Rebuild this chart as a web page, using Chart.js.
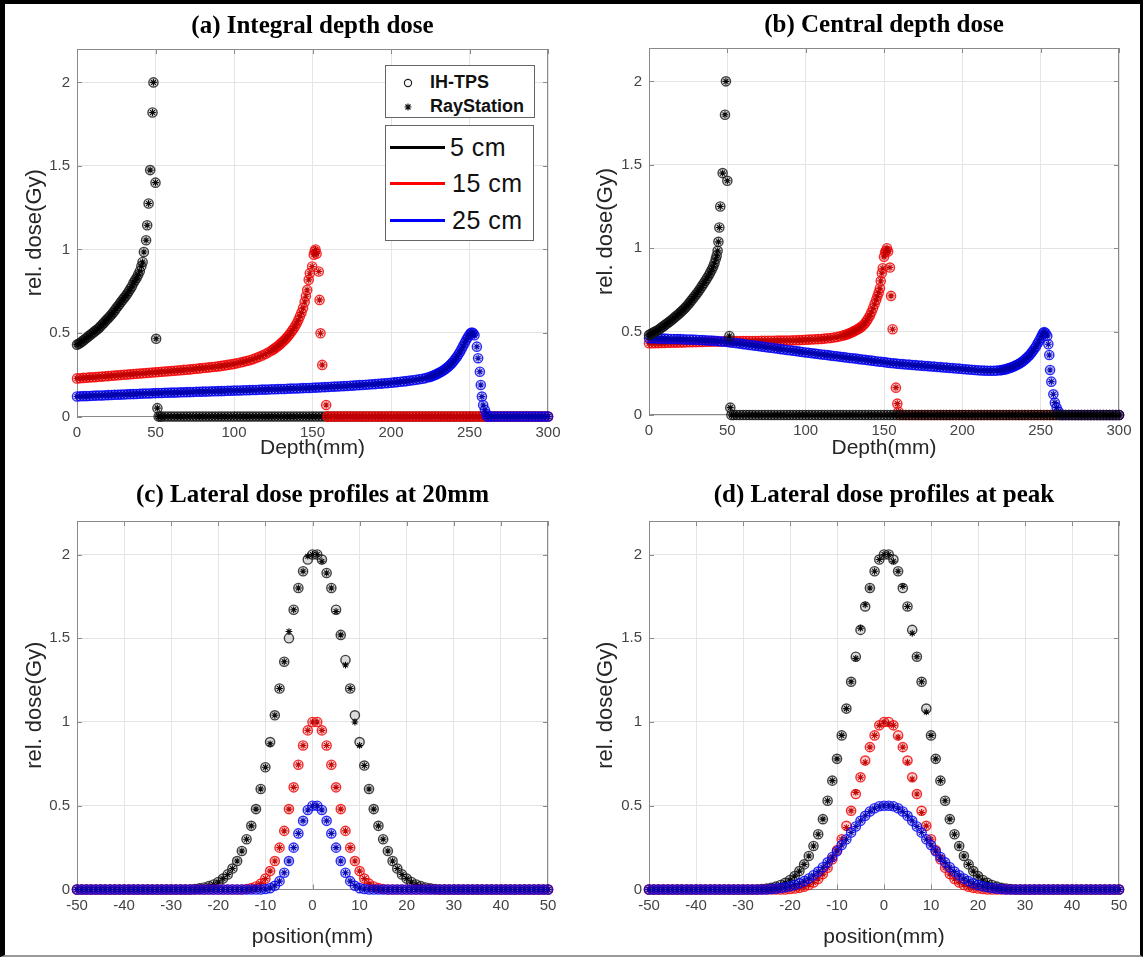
<!DOCTYPE html>
<html>
<head>
<meta charset="utf-8">
<title>Depth dose and lateral profiles</title>
<script src="https://cdn.jsdelivr.net/npm/chart.js@4.4.1/dist/chart.umd.min.js"></script>
<style>
  body { margin: 0; background: #fff; }
  #fig { position: relative; width: 1143px; height: 957px; overflow: hidden; background: #fff; }
  #fig canvas { position: absolute; }
  .frame { position: absolute; left: 0; top: 0; width: 1143px; height: 957px; box-sizing: border-box;
           border-left: 5px solid #000; border-top: 4px solid #000; border-right: 3px solid #000;
           border-bottom: 2px solid #999; pointer-events: none; }
  .lg { position: absolute; box-sizing: border-box; border: 1px solid #666; background: #fff; }
  .lg svg { position: absolute; }
  .lg span { position: absolute; white-space: nowrap; color: #111; font-family: 'Liberation Sans', Arial, sans-serif; }
  .lg .small { font-size: 18px; font-weight: bold; line-height: 20px; }
  .lg .big { font-size: 25px; line-height: 28px; letter-spacing: 0.5px; }
  .lg i { position: absolute; height: 3px; width: 55px; left: 4px; }
</style>
</head>
<body>
<div id="fig">
  <canvas id="cA" width="571" height="478" style="left:0;top:0"></canvas>
  <canvas id="cB" width="572" height="478" style="left:571px;top:0"></canvas>
  <canvas id="cC" width="571" height="479" style="left:0;top:478px"></canvas>
  <canvas id="cD" width="572" height="479" style="left:571px;top:478px"></canvas>

  <div class="lg" style="left:385px;top:65px;width:150px;height:53px">
    <svg style="left:16px;top:11px" width="12" height="12"><circle cx="6" cy="6" r="3.6" fill="none" stroke="#222" stroke-width="1.2"/></svg>
    <span class="small" style="left:44px;top:6px">IH-TPS</span>
    <svg style="left:16px;top:35px" width="12" height="12"><path d="M6 2.5V9.5M2.5 6H9.5M3.5 3.5L8.5 8.5M8.5 3.5L3.5 8.5" stroke="#111" stroke-width="1.2"/></svg>
    <span class="small" style="left:44px;top:30px">RayStation</span>
  </div>
  <div class="lg" style="left:385px;top:125px;width:149px;height:116px">
    <i style="top:20px;background:#000"></i>
    <span class="big" style="left:64px;top:7px">5 cm</span>
    <i style="top:56px;background:#f00"></i>
    <span class="big" style="left:66px;top:43px">15 cm</span>
    <i style="top:93px;background:#00f"></i>
    <span class="big" style="left:66px;top:80px">25 cm</span>
  </div>

  <div class="frame"></div>
</div>

<script>
// ---- data ----
const yTicks = [0, 0.5, 1, 1.5, 2];
const depthTicks = [0, 50, 100, 150, 200, 250, 300];
const positionTicks = [-50, -40, -30, -20, -10, 0, 10, 20, 30, 40, 50];

// depth sampling (mm) for the smooth parts of the depth dose curves
const depthGrid = [
  0, 2, 4, 6, 8, 10, 12, 14, 16, 18,
  20, 22, 24, 26, 28, 30, 32, 34, 36, 38,
  40, 42, 44, 46, 48, 50, 52, 54, 56, 58,
  60, 62, 64, 66, 68, 70, 72, 74, 76, 78,
  80, 82, 84, 86, 88, 90, 92, 94, 96, 98,
  100, 102, 104, 106, 108, 110, 112, 114, 116, 118,
  120, 122, 124, 126, 128, 130, 132, 134, 136, 138,
  140, 142, 144, 146, 148, 150, 152, 154, 156, 158,
  160, 162, 164, 166, 168, 170, 172, 174, 176, 178,
  180, 182, 184, 186, 188, 190, 192, 194, 196, 198,
  200, 202, 204, 206, 208, 210, 212, 214, 216, 218,
  220, 222, 224, 226, 228, 230, 232, 234, 236, 238,
  240, 242, 244, 246, 248, 250, 252, 254, 256, 258,
  260, 262, 264, 266, 268, 270, 272, 274, 276, 278,
  280, 282, 284, 286, 288, 290, 292, 294, 296, 298,
  300
];

// (a) integral depth dose on depthGrid (null = covered by the peak list)
const iddDose5 = [
  .43, .44, .455, .47, .485, .50, .515, .53, .55, .57,
  .59, .61, .635, .66, .685, .71, .735, .765, .80, .83,
  .87, null, null, null, null, null, 0, 0, 0, 0,
  0, 0, 0, 0, 0, 0, 0, 0, 0, 0,
  0, 0, 0, 0, 0, 0, 0, 0, 0, 0,
  0, 0, 0, 0, 0, 0, 0, 0, 0, 0,
  0, 0, 0, 0, 0, 0, 0, 0, 0, 0,
  0, 0, 0, 0, 0, 0, 0, 0, 0, 0,
  0, 0, 0, 0, 0, 0, 0, 0, 0, 0,
  0, 0, 0, 0, 0, 0, 0, 0, 0, 0,
  0, 0, 0, 0, 0, 0, 0, 0, 0, 0,
  0, 0, 0, 0, 0, 0, 0, 0, 0, 0,
  0, 0, 0, 0, 0, 0, 0, 0, 0, 0,
  0, 0, 0, 0, 0, 0, 0, 0, 0, 0,
  0, 0, 0, 0, 0, 0, 0, 0, 0, 0,
  0
];
const iddPeak5 = [[1, .435], [3, .448], [5, .462], [7, .478], [9, .492], [11, .508], [13, .522],
  [15, .54], [17, .56], [19, .58], [21, .60], [23, .622], [25, .648], [27, .672], [29, .698], [31, .722],
  [33, .75], [35, .78], [37, .815], [39, .85], [41, .90], [41.8, .925], [42.6, .985],
  [44.0, 1.055], [44.7, 1.145], [45.6, 1.275], [46.6, 1.475], [48.1, 1.82], [48.7, 2.0], [50.0, 1.40],
  [50.4, .465], [51.2, .05], [53, 0]];

const iddDose15 = [
  .228, .229, .231, .232, .234, .235, .236, .238, .239, .241,
  .242, .244, .245, .247, .248, .25, .251, .253, .254, .256,
  .257, .259, .26, .262, .263, .265, .266, .268, .269, .271,
  .272, .274, .275, .277, .279, .28, .282, .284, .286, .288,
  .29, .292, .294, .296, .298, .30, .303, .306, .309, .312,
  .315, .319, .323, .327, .332, .337, .343, .35, .357, .365,
  .374, .384, .395, .408, .422, .438, .456, .476, .50, .527,
  .558, .60, .65, null, null, null, null, null, null, null,
  0, 0, 0, 0, 0, 0, 0, 0, 0, 0,
  0, 0, 0, 0, 0, 0, 0, 0, 0, 0,
  0, 0, 0, 0, 0, 0, 0, 0, 0, 0,
  0, 0, 0, 0, 0, 0, 0, 0, 0, 0,
  0, 0, 0, 0, 0, 0, 0, 0, 0, 0,
  0, 0, 0, 0, 0, 0, 0, 0, 0, 0,
  0, 0, 0, 0, 0, 0, 0, 0, 0, 0,
  0
];
const iddPeak15 = [[125, .401], [127, .415], [129, .43], [131, .447], [133, .466], [135, .488],
  [137, .513], [139, .542], [141, .577], [143, .622], [145, .685], [145.8, .72],
  [146.6, .758], [147.6, .818], [148.3, .858], [149.8, .898], [150.8, .968], [151.4, .99], [151.9, 1.0],
  [152.6, .975], [154, .868], [154.5, .698], [155.1, .498], [156.2, .309], [158.7, .069], [159.5, 0]];

const iddDose25 = [
  .12, .121, .122, .122, .123, .124, .125, .126, .126, .127,
  .128, .129, .13, .13, .131, .132, .133, .134, .134, .135,
  .136, .137, .138, .138, .139, .14, .141, .141, .142, .142,
  .143, .143, .144, .145, .145, .146, .146, .147, .148, .148,
  .149, .149, .15, .151, .151, .152, .152, .153, .154, .154,
  .155, .156, .156, .157, .157, .158, .159, .159, .16, .161,
  .161, .162, .163, .163, .164, .165, .165, .166, .167, .168,
  .168, .169, .17, .171, .171, .172, .173, .174, .175, .176,
  .177, .178, .179, .18, .181, .182, .183, .184, .185, .187,
  .188, .189, .19, .192, .193, .194, .196, .197, .199, .20,
  .202, .204, .206, .208, .21, .212, .215, .217, .22, .223,
  .226, .23, .235, .241, .249, .258, .268, .28, .295, .312,
  .333, .358, .388, .423, .46, null, null, null, null, null,
  null, 0, 0, 0, 0, 0, 0, 0, 0, 0,
  0, 0, 0, 0, 0, 0, 0, 0, 0, 0,
  0
];
const iddPeak25 = [[225, .238], [227, .245], [229, .253], [231, .263], [233, .274], [235, .287],
  [237, .303], [239, .322],
  [241, .345], [243, .372], [245, .405], [247, .442], [249, .476], [250, .49],
  [250.8, .50], [251.6, .503], [252.4, .498], [253.2, .486], [254.7, .418], [255.5, .349], [256.6, .268],
  [257.2, .189], [257.9, .119], [258.7, .069], [259.8, .039], [260.8, .015], [261.4, 0]];

// (b) central depth dose
const cddDose5 = [
  .48, .49, .50, .51, .525, .538, .552, .566, .582, .598,
  .614, .632, .652, .674, .698, .722, .748, .776, .805, .835,
  .87, null, null, null, null, null, null, 0, 0, 0,
  0, 0, 0, 0, 0, 0, 0, 0, 0, 0,
  0, 0, 0, 0, 0, 0, 0, 0, 0, 0,
  0, 0, 0, 0, 0, 0, 0, 0, 0, 0,
  0, 0, 0, 0, 0, 0, 0, 0, 0, 0,
  0, 0, 0, 0, 0, 0, 0, 0, 0, 0,
  0, 0, 0, 0, 0, 0, 0, 0, 0, 0,
  0, 0, 0, 0, 0, 0, 0, 0, 0, 0,
  0, 0, 0, 0, 0, 0, 0, 0, 0, 0,
  0, 0, 0, 0, 0, 0, 0, 0, 0, 0,
  0, 0, 0, 0, 0, 0, 0, 0, 0, 0,
  0, 0, 0, 0, 0, 0, 0, 0, 0, 0,
  0, 0, 0, 0, 0, 0, 0, 0, 0, 0,
  0
];
const cddPeak5 = [[1, .485], [3, .495], [5, .505], [7, .517], [9, .531], [11, .545], [13, .559],
  [15, .574], [17, .59], [19, .606], [21, .623], [23, .642], [25, .663], [27, .686], [29, .71], [31, .735],
  [33, .762], [35, .79], [37, .82], [39, .852], [41, .89], [41.8, .91], [42.6, .935], [43.2, .955],
  [43.8, .984], [44.3, 1.038], [44.9, 1.124], [45.5, 1.25], [47, 1.45], [48.5, 1.80], [49.1, 2.0],
  [50, 1.404], [51.3, .474], [51.9, .044], [52.6, 0]];

const cddDose15 = [
  .43, .43, .431, .431, .432, .432, .433, .433, .434, .434,
  .435, .435, .436, .436, .437, .437, .438, .438, .439, .439,
  .44, .44, .441, .441, .442, .442, .442, .443, .443, .443,
  .443, .444, .444, .444, .444, .444, .445, .445, .445, .445,
  .445, .446, .446, .446, .447, .447, .448, .448, .449, .45,
  .451, .452, .453, .454, .455, .456, .458, .46, .462, .465,
  .468, .472, .477, .483, .49, .498, .508, .519, .532, .552,
  .58, .617, .665, null, null, null, null, null, null, null,
  0, 0, 0, 0, 0, 0, 0, 0, 0, 0,
  0, 0, 0, 0, 0, 0, 0, 0, 0, 0,
  0, 0, 0, 0, 0, 0, 0, 0, 0, 0,
  0, 0, 0, 0, 0, 0, 0, 0, 0, 0,
  0, 0, 0, 0, 0, 0, 0, 0, 0, 0,
  0, 0, 0, 0, 0, 0, 0, 0, 0, 0,
  0, 0, 0, 0, 0, 0, 0, 0, 0, 0,
  0
];
const cddPeak15 = [[125, .48], [127, .486], [129, .494], [131, .503], [133, .513], [135, .525],
  [137, .541], [139, .565], [141, .597], [143, .64], [145, .69], [145.8, .712], [146.6, .735],
  [147.4, .76], [147.9, .804], [148.6, .85], [149.2, .88], [150, .948], [150.7, .975], [151.3, .985],
  [151.9, 1.0], [152.6, .98], [153.8, .884], [154.5, .714], [155.5, .514], [157.6, .164], [158.5, .068],
  [159.2, .02]];

const cddDose25 = [
  .46, .46, .459, .459, .458, .458, .457, .456, .456, .455,
  .455, .454, .453, .453, .452, .451, .45, .449, .448, .447,
  .446, .445, .443, .441, .44, .438, .435, .433, .43, .428,
  .425, .423, .42, .418, .415, .413, .41, .408, .405, .403,
  .40, .398, .395, .393, .39, .388, .385, .383, .38, .378,
  .375, .373, .37, .368, .366, .363, .361, .359, .356, .354,
  .352, .349, .347, .345, .342, .34, .338, .335, .333, .331,
  .328, .326, .324, .321, .319, .317, .314, .312, .31, .308,
  .306, .305, .303, .302, .30, .299, .297, .296, .294, .293,
  .291, .29, .288, .287, .285, .284, .282, .281, .279, .278,
  .276, .274, .273, .271, .27, .268, .267, .266, .265, .265,
  .265, .266, .268, .271, .275, .281, .288, .296, .306, .318,
  .333, .35, .371, .397, .428, null, null, null, null, null,
  null, null, 0, 0, 0, 0, 0, 0, 0, 0,
  0, 0, 0, 0, 0, 0, 0, 0, 0, 0,
  0
];
const cddPeak25 = [[225, .269], [227, .273], [229, .278], [231, .284], [233, .292], [235, .301],
  [237, .312], [239, .325],
  [241, .341], [243, .36], [245, .383], [247, .41], [249, .445], [250, .462],
  [250.8, .478], [251.6, .492], [252.3, .497], [253.2, .49], [254.2, .474], [254.9, .424], [255.5, .36],
  [256, .27], [256.8, .20], [258.1, .124], [259.1, .074], [260.2, .044], [261.5, .02], [262.6, 0]];

// lateral positions (mm)
const positions = [
  -50, -49, -48, -47, -46, -45, -44, -43, -42, -41,
  -40, -39, -38, -37, -36, -35, -34, -33, -32, -31,
  -30, -29, -28, -27, -26, -25, -24, -23, -22, -21,
  -20, -19, -18, -17, -16, -15, -14, -13, -12, -11,
  -10, -9, -8, -7, -6, -5, -4, -3, -2, -1,
  0, 1, 2, 3, 4, 5, 6, 7, 8, 9,
  10, 11, 12, 13, 14, 15, 16, 17, 18, 19,
  20, 21, 22, 23, 24, 25, 26, 27, 28, 29,
  30, 31, 32, 33, 34, 35, 36, 37, 38, 39,
  40, 41, 42, 43, 44, 45, 46, 47, 48, 49,
  50
];

// (c) lateral profiles at 20 mm
const lat20Ih5 = [
  0, 0, 0, 0, 0, 0, 0, 0, 0, 0,
  0, 0, 0, 0, 0, 0, 0, 0, 0, 0,
  0, 0, 0, 0, 0, .003, .007, .012, .02, .03,
  .045, .065, .09, .125, .17, .23, .30, .38, .48, .60,
  .73, .88, 1.04, 1.20, 1.36, 1.50, 1.67, 1.80, 1.90, 1.97,
  2.0, 2.0, 1.97, 1.89, 1.80, 1.67, 1.52, 1.37, 1.20, 1.04,
  .88, .74, .60, .48, .38, .30, .23, .17, .125, .09,
  .065, .045, .03, .02, .012, .007, .003, 0, 0, 0,
  0, 0, 0, 0, 0, 0, 0, 0, 0, 0,
  0, 0, 0, 0, 0, 0, 0, 0, 0, 0,
  0
];
const lat20Rs5 = [
  0, 0, 0, 0, 0, 0, 0, 0, 0, 0,
  0, 0, 0, 0, 0, 0, 0, 0, 0, 0,
  0, 0, 0, 0, 0, .003, .007, .012, .02, .03,
  .045, .065, .09, .125, .17, .23, .30, .38, .48, .60,
  .73, .87, 1.04, 1.20, 1.36, 1.54, 1.67, 1.80, 1.90, 1.99,
  2.0, 2.0, 1.96, 1.89, 1.80, 1.66, 1.52, 1.34, 1.20, 1.00,
  .86, .74, .60, .48, .38, .30, .23, .17, .125, .09,
  .065, .045, .03, .02, .012, .007, .003, 0, 0, 0,
  0, 0, 0, 0, 0, 0, 0, 0, 0, 0,
  0, 0, 0, 0, 0, 0, 0, 0, 0, 0,
  0
];
const lat20Ih15 = [
  0, 0, 0, 0, 0, 0, 0, 0, 0, 0,
  0, 0, 0, 0, 0, 0, 0, 0, 0, 0,
  0, 0, 0, 0, 0, 0, 0, 0, 0, 0,
  0, 0, 0, 0, 0, 0, .003, .008, .018, .035,
  .065, .11, .17, .25, .35, .48, .61, .745, .86, .95,
  1.0, 1.0, .95, .86, .745, .61, .48, .35, .25, .17,
  .11, .065, .035, .018, .008, .003, 0, 0, 0, 0,
  0, 0, 0, 0, 0, 0, 0, 0, 0, 0,
  0, 0, 0, 0, 0, 0, 0, 0, 0, 0,
  0, 0, 0, 0, 0, 0, 0, 0, 0, 0,
  0
];
const lat20Ih25 = [
  0, 0, 0, 0, 0, 0, 0, 0, 0, 0,
  0, 0, 0, 0, 0, 0, 0, 0, 0, 0,
  0, 0, 0, 0, 0, 0, 0, 0, 0, 0,
  0, 0, 0, 0, 0, 0, 0, 0, 0, 0,
  .003, .008, .022, .05, .10, .17, .25, .335, .41, .475,
  .5, .5, .475, .41, .335, .25, .17, .10, .05, .022,
  .008, .003, 0, 0, 0, 0, 0, 0, 0, 0,
  0, 0, 0, 0, 0, 0, 0, 0, 0, 0,
  0, 0, 0, 0, 0, 0, 0, 0, 0, 0,
  0, 0, 0, 0, 0, 0, 0, 0, 0, 0,
  0
];

// (d) lateral profiles at the peak
const latPkIh5 = [
  0, 0, 0, 0, 0, 0, 0, 0, 0, 0,
  0, 0, 0, 0, 0, 0, 0, 0, 0, 0,
  0, 0, 0, 0, .003, .006, .01, .017, .027, .04,
  .057, .08, .11, .15, .20, .26, .33, .42, .53, .65,
  .78, .92, 1.08, 1.24, 1.39, 1.55, 1.69, 1.80, 1.90, 1.97,
  2.0, 2.0, 1.97, 1.90, 1.80, 1.69, 1.55, 1.39, 1.24, 1.08,
  .92, .78, .65, .53, .42, .33, .26, .20, .15, .11,
  .08, .057, .04, .027, .017, .01, .006, .003, 0, 0,
  0, 0, 0, 0, 0, 0, 0, 0, 0, 0,
  0, 0, 0, 0, 0, 0, 0, 0, 0, 0,
  0
];
const latPkRs5 = [
  0, 0, 0, 0, 0, 0, 0, 0, 0, 0,
  0, 0, 0, 0, 0, 0, 0, 0, 0, 0,
  0, 0, 0, 0, .003, .006, .01, .017, .027, .04,
  .057, .08, .11, .15, .20, .26, .33, .42, .53, .65,
  .78, .92, 1.08, 1.24, 1.38, 1.56, 1.70, 1.80, 1.90, 1.97,
  2.0, 2.0, 1.96, 1.90, 1.81, 1.69, 1.53, 1.39, 1.24, 1.06,
  .92, .78, .65, .53, .42, .33, .26, .20, .15, .11,
  .08, .057, .04, .027, .017, .01, .006, .003, 0, 0,
  0, 0, 0, 0, 0, 0, 0, 0, 0, 0,
  0, 0, 0, 0, 0, 0, 0, 0, 0, 0,
  0
];
const latPkIh15 = [
  0, 0, 0, 0, 0, 0, 0, 0, 0, 0,
  0, 0, 0, 0, 0, 0, 0, 0, 0, 0,
  0, 0, 0, 0, 0, 0, 0, 0, 0, 0,
  .003, .006, .01, .017, .027, .042, .063, .092, .13, .18,
  .235, .30, .38, .47, .57, .67, .77, .85, .92, .98,
  1.0, 1.0, .98, .92, .85, .77, .67, .57, .47, .38,
  .30, .235, .18, .13, .092, .063, .042, .027, .017, .01,
  .006, .003, 0, 0, 0, 0, 0, 0, 0, 0,
  0, 0, 0, 0, 0, 0, 0, 0, 0, 0,
  0, 0, 0, 0, 0, 0, 0, 0, 0, 0,
  0
];
const latPkRs15 = [
  0, 0, 0, 0, 0, 0, 0, 0, 0, 0,
  0, 0, 0, 0, 0, 0, 0, 0, 0, 0,
  0, 0, 0, 0, 0, 0, 0, 0, 0, 0,
  .003, .006, .01, .017, .027, .042, .063, .092, .13, .18,
  .235, .30, .37, .47, .58, .67, .76, .85, .92, .98,
  1.0, .99, .98, .91, .85, .76, .66, .57, .46, .38,
  .30, .235, .18, .13, .092, .063, .042, .027, .017, .01,
  .006, .003, 0, 0, 0, 0, 0, 0, 0, 0,
  0, 0, 0, 0, 0, 0, 0, 0, 0, 0,
  0, 0, 0, 0, 0, 0, 0, 0, 0, 0,
  0
];
const latPkIh25 = [
  0, 0, 0, 0, 0, 0, 0, 0, 0, 0,
  0, 0, 0, 0, 0, 0, 0, 0, 0, 0,
  0, 0, 0, 0, 0, 0, .003, .005, .009, .013,
  .019, .027, .037, .05, .066, .085, .107, .133, .162, .194,
  .228, .265, .30, .34, .376, .41, .44, .466, .485, .497,
  .5, .5, .497, .485, .466, .44, .41, .376, .34, .30,
  .265, .228, .194, .162, .133, .107, .085, .066, .05, .037,
  .027, .019, .013, .009, .005, .003, 0, 0, 0, 0,
  0, 0, 0, 0, 0, 0, 0, 0, 0, 0,
  0, 0, 0, 0, 0, 0, 0, 0, 0, 0,
  0
];

// ---- styling ----
const inkBlack = { ring: 'rgba(20,20,20,0.8)', fill: 'rgba(60,60,60,0.18)', star: 'rgba(0,0,0,0.95)' };
const inkRed = { ring: 'rgba(245,0,0,0.82)', fill: 'rgba(245,40,40,0.2)', star: 'rgba(190,0,0,0.95)' };
const inkBlue = { ring: 'rgba(0,0,245,0.82)', fill: 'rgba(40,40,245,0.2)', star: 'rgba(0,0,170,0.95)' };
const sans = "'Liberation Sans', Arial, sans-serif";
const serif = "'Liberation Serif', 'Times New Roman', serif";

function depthPoints(dose, detail) {
  const pts = [];
  depthGrid.forEach((d, i) => { if (dose[i] !== null) pts.push({ x: d, y: dose[i] }); });
  detail.forEach(p => pts.push({ x: p[0], y: p[1] }));
  return pts;
}
function lateralPoints(dose) {
  return positions.map((p, i) => ({ x: p, y: dose[i] }));
}

// one energy: RayStation stars drawn over IH-TPS circles
function series(ih, rs, ink) {
  return [
    { label: 'RayStation', data: rs, pointStyle: 'star', pointRadius: 3.4, pointBorderWidth: 1.1,
      pointBorderColor: ink.star, pointBackgroundColor: ink.star },
    { label: 'IH-TPS', data: ih, pointStyle: 'circle', pointRadius: 4.6, pointBorderWidth: 1.4,
      pointBorderColor: ink.ring, pointBackgroundColor: ink.fill }
  ];
}
// first group ends up on top
function stack(groups) {
  return groups.flat().map((d, i) => Object.assign(d, { order: i, clip: false }));
}

// box around the axes with inward ticks, like the original
const axisBox = {
  id: 'axisBox',
  beforeDatasetsDraw(chart) {
    const { ctx, chartArea: a, scales: { x, y } } = chart;
    ctx.save();
    ctx.strokeStyle = '#8a8a8a';
    ctx.lineWidth = 1;
    ctx.strokeRect(Math.round(a.left) + 0.5, Math.round(a.top) + 0.5,
      Math.round(a.right) - Math.round(a.left) - 1, Math.round(a.bottom) - Math.round(a.top) - 1);
    ctx.beginPath();
    x.ticks.forEach(t => {
      const px = Math.round(x.getPixelForValue(t.value)) + 0.5;
      ctx.moveTo(px, a.bottom); ctx.lineTo(px, a.bottom - 5);
      ctx.moveTo(px, a.top); ctx.lineTo(px, a.top + 5);
    });
    y.ticks.forEach(t => {
      const py = Math.round(y.getPixelForValue(t.value)) + 0.5;
      ctx.moveTo(a.left, py); ctx.lineTo(a.left + 5, py);
      ctx.moveTo(a.right, py); ctx.lineTo(a.right - 5, py);
    });
    ctx.stroke();
    ctx.restore();
  }
};

function makePanel(id, p) {
  return new Chart(document.getElementById(id), {
    type: 'scatter',
    data: { datasets: p.datasets },
    options: {
      responsive: false,
      animation: false,
      events: [],
      layout: { padding: { left: 0, right: p.padRight, top: 0, bottom: 0 } },
      plugins: {
        legend: { display: false },
        tooltip: { enabled: false },
        title: {
          display: true, text: p.title, fullSize: false, color: '#000',
          font: { family: serif, size: 25, weight: 'bold' },
          padding: { top: p.titleTop, bottom: p.titleBottom }
        }
      },
      scales: {
        x: {
          type: 'linear', min: p.xMin, max: p.xMax,
          afterBuildTicks: s => { s.ticks = p.xTicks.map(v => ({ value: v })); },
          afterFit: s => { s.height = p.xHeight; },
          grid: { color: '#e4e4e4', drawTicks: false },
          border: { display: false },
          ticks: { color: '#444', font: { family: sans, size: 15 }, padding: 7, maxRotation: 0,
                   autoSkip: false, callback: v => String(v) },
          title: { display: true, text: p.xTitle, color: '#262626', font: { family: sans, size: 21 },
                   padding: { top: 0, bottom: p.xTitlePad } }
        },
        y: {
          type: 'linear', min: 0, max: 2.2,
          afterBuildTicks: s => { s.ticks = yTicks.map(v => ({ value: v })); },
          afterFit: s => { s.width = p.yWidth; },
          grid: { color: '#e4e4e4', drawTicks: false },
          border: { display: false },
          ticks: { color: '#444', font: { family: sans, size: 15 }, padding: 7, callback: v => String(v) },
          title: { display: true, text: 'rel. dose(Gy)', color: '#262626', font: { family: sans, size: 22 },
                   padding: { top: 22, bottom: 0 } }
        }
      }
    },
    plugins: [axisBox]
  });
}

const upperRow = { xMin: 0, xMax: 300, xTicks: depthTicks, xTitle: 'Depth(mm)', xTitlePad: 17, titleTop: 12, titleBottom: 7 };
const lowerRow = { xMin: -50, xMax: 50, xTicks: positionTicks, xTitle: 'position(mm)', xTitlePad: 7, titleTop: 3, titleBottom: 10, xHeight: 67.5 };

const idd5 = depthPoints(iddDose5, iddPeak5);
const idd15 = depthPoints(iddDose15, iddPeak15);
const idd25 = depthPoints(iddDose25, iddPeak25);
makePanel('cA', Object.assign({}, upperRow, {
  title: '(a) Integral depth dose', yWidth: 77, padRight: 23, xHeight: 61.5,
  datasets: stack([series(idd25, idd25, inkBlue), series(idd15, idd15, inkRed), series(idd5, idd5, inkBlack)])
}));

const cdd5 = depthPoints(cddDose5, cddPeak5);
const cdd15 = depthPoints(cddDose15, cddPeak15);
const cdd25 = depthPoints(cddDose25, cddPeak25);
makePanel('cB', Object.assign({}, upperRow, {
  title: '(b) Central depth dose', yWidth: 78, padRight: 24, xHeight: 63, titleTop: 11,
  datasets: stack([series(cdd5, cdd5, inkBlack), series(cdd25, cdd25, inkBlue), series(cdd15, cdd15, inkRed)])
}));

makePanel('cC', Object.assign({}, lowerRow, {
  title: '(c) Lateral dose profiles at 20mm', yWidth: 77, padRight: 23,
  datasets: stack([
    series(lateralPoints(lat20Ih25), lateralPoints(lat20Ih25), inkBlue),
    series(lateralPoints(lat20Ih15), lateralPoints(lat20Ih15), inkRed),
    series(lateralPoints(lat20Ih5), lateralPoints(lat20Rs5), inkBlack)
  ])
}));

makePanel('cD', Object.assign({}, lowerRow, {
  title: '(d) Lateral dose profiles at peak', yWidth: 78, padRight: 24,
  datasets: stack([
    series(lateralPoints(latPkIh25), lateralPoints(latPkIh25), inkBlue),
    series(lateralPoints(latPkIh15), lateralPoints(latPkRs15), inkRed),
    series(lateralPoints(latPkIh5), lateralPoints(latPkRs5), inkBlack)
  ])
}));
</script>
</body>
</html>
